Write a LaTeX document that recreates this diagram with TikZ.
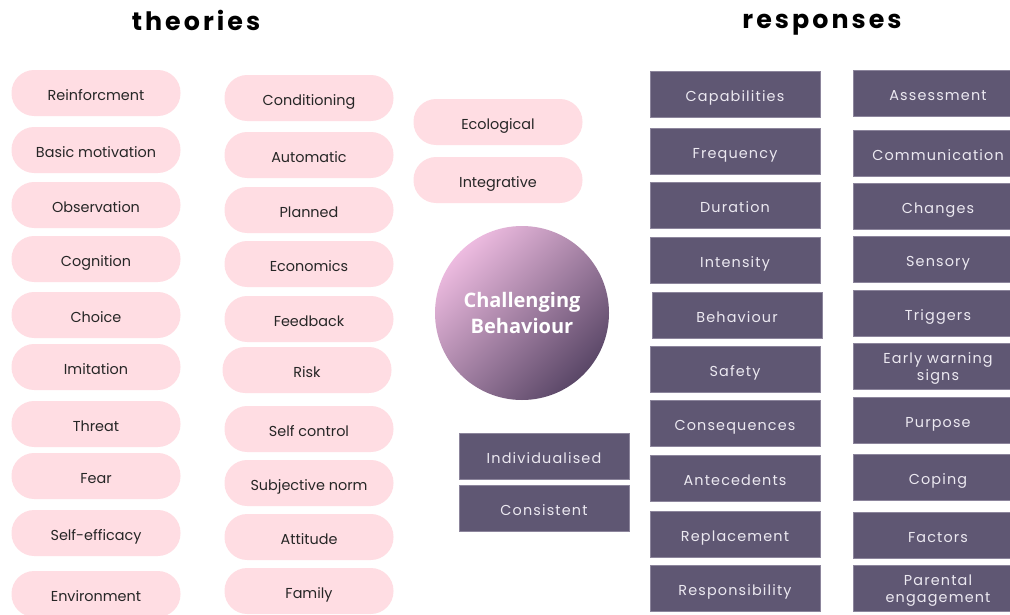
\documentclass[tikz,border=0pt]{standalone}
\usepackage{fontspec}
\setmainfont{Poppins}
\newfontfamily\titlefont[LetterSpace=12]{Poppins Bold}
\newfontfamily\boxfont[LetterSpace=8]{Poppins}
\newfontfamily\hubfont{Open Sans Bold}
\definecolor{pillpink}{HTML}{FFDDE3}
\definecolor{boxpurple}{HTML}{5F5773}
\definecolor{boxedge}{HTML}{8C859C}
\definecolor{boxtext}{HTML}{ECE9F1}
\definecolor{hubtop}{HTML}{EDBBE0}
\definecolor{hubbottom}{HTML}{5A4767}
\tikzset{
  pill/.style={rectangle, rounded corners=17pt, fill=pillpink, minimum width=126.75pt,
    minimum height=34.5pt, inner sep=0pt, text height=10.5pt, text depth=0pt,
    font=\fontsize{10.8pt}{12pt}\selectfont, text=black!85},
  respbox/.style={rectangle, fill=boxpurple, draw=boxedge, line width=0.5pt, minimum width=127.5pt,
    minimum height=34.5pt, inner sep=0pt, text height=10.5pt, text depth=0pt, align=center,
    text=boxtext, font=\boxfont\fontsize{10.8pt}{12.75pt}\selectfont},
  twoline/.style={text height=21pt, text depth=0pt},
  heading/.style={font=\titlefont\fontsize{19pt}{20pt}\selectfont, text=black,
    text height=13.5pt, text depth=0pt},
}
\begin{document}
\begin{tikzpicture}[x=0.75pt,y=-0.75pt]
\clip (0,0) rectangle (1010,614);
\fill[white] (0,0) rectangle (1010,614);

% headings
\node[heading] (theories) at (196,22) {theories};
\node[heading] (responses) at (822,19) {responses};

% theories, first column
\node[pill] (t1) at (96,93) {Reinforcment};
\node[pill] (t2) at (96,150) {Basic motivation};
\node[pill] (t3) at (96,205) {Observation};
\node[pill] (t4) at (96,259) {Cognition};
\node[pill] (t5) at (96,315) {Choice};
\node[pill] (t6) at (96,367) {Imitation};
\node[pill] (t7) at (96,424) {Threat};
\node[pill] (t8) at (96,476) {Fear};
\node[pill] (t9) at (96,533) {Self-efficacy};
\node[pill] (t10) at (96,594) {Environment};

% theories, second column
\node[pill] (u1) at (309,98) {Conditioning};
\node[pill] (u2) at (309,155) {Automatic};
\node[pill] (u3) at (309,210) {Planned};
\node[pill] (u4) at (309,264) {Economics};
\node[pill] (u5) at (309,319) {Feedback};
\node[pill] (u6) at (307,370) {Risk};
\node[pill] (u7) at (309,429) {Self control};
\node[pill] (u8) at (309,483) {Subjective norm};
\node[pill] (u9) at (309,537) {Attitude};
\node[pill] (u10) at (309,591) {Family};

% theories, third column
\node[pill] (v1) at (498,122) {Ecological};
\node[pill] (v2) at (498,180) {Integrative};

% central topic
\node[circle, minimum size=130.5pt, inner sep=0pt, top color=hubtop, bottom color=hubbottom,
  shading angle=45, align=center, text=white, font=\hubfont\fontsize{15pt}{19.5pt}\selectfont]
  (hub) at (522,313) {Challenging\\Behaviour};

% shared responses
\node[respbox] (c1) at (544,456) {Individualised};
\node[respbox] (c2) at (544,508) {Consistent};

% responses, first column
\node[respbox] (r1) at (735,94) {Capabilities};
\node[respbox] (r2) at (735,151) {Frequency};
\node[respbox] (r3) at (735,205) {Duration};
\node[respbox] (r4) at (735,260) {Intensity};
\node[respbox] (r5) at (737,315) {Behaviour};
\node[respbox] (r6) at (735,369) {Safety};
\node[respbox] (r7) at (735,423) {Consequences};
\node[respbox] (r8) at (735,478) {Antecedents};
\node[respbox] (r9) at (735,534) {Replacement};
\node[respbox] (r10) at (735,588) {Responsibility};

% responses, second column
\node[respbox] (s1) at (938,93) {Assessment};
\node[respbox] (s2) at (938,153) {Communication};
\node[respbox] (s3) at (938,206) {Changes};
\node[respbox] (s4) at (938,259) {Sensory};
\node[respbox] (s5) at (938,313) {Triggers};
\node[respbox, twoline] (s6) at (938,366) {Early warning\\signs};
\node[respbox] (s7) at (938,420) {Purpose};
\node[respbox] (s8) at (938,477) {Coping};
\node[respbox] (s9) at (938,535) {Factors};
\node[respbox, twoline] (s10) at (938,588) {Parental\\engagement};
\end{tikzpicture}
\end{document}
